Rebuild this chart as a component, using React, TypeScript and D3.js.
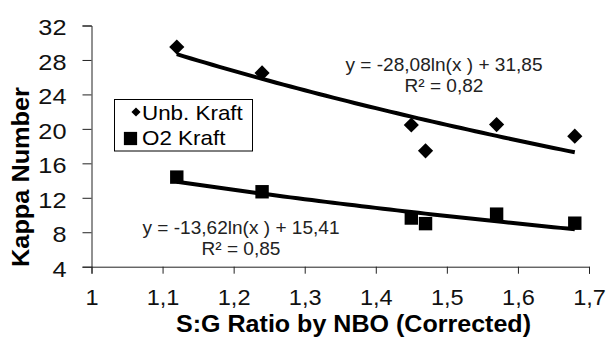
import * as d3 from "d3"
import { useEffect, useRef } from "react"

// data
const ratioSG = [1.12, 1.24, 1.45, 1.47, 1.57, 1.68]
const unbKraft = [29.5, 26.5, 20.45, 17.45, 20.5, 19.15]
const o2Kraft = [14.4, 12.7, 9.65, 9.0, 10.1, 9.05]
const xTicks = [1, 1.1, 1.2, 1.3, 1.4, 1.5, 1.6, 1.7]
const xTickLabels = ["1", "1,1", "1,2", "1,3", "1,4", "1,5", "1,6", "1,7"]
const yTicks = [4, 8, 12, 16, 20, 24, 28, 32]
const yTickLabels = ["4", "8", "12", "16", "20", "24", "28", "32"]
const seriesNames = ["Unb. Kraft", "O2 Kraft"]
// log trendlines y = a ln(x) + b
const unbFit = [-28.08, 31.85]
const o2Fit = [-13.62, 15.41]
const unbFitLabels = ["y = -28,08ln(x ) + 31,85", "R² = 0,82"]
const o2FitLabels = ["y = -13,62ln(x ) + 15,41", "R² = 0,85"]

const FONT = "'Liberation Sans', Arial, sans-serif"

export default function App() {
	const ref = useRef<SVGSVGElement>(null)

	useEffect(() => {
		const svg = d3.select(ref.current)
		svg.selectAll("*").remove()

		const x = d3.scaleLinear().domain([1, 1.7]).range([91.5, 589])
		const y = d3.scaleLinear().domain([4, 32]).range([266.7, 25.5])

		// axes
		const xAxis = d3.axisBottom(x).tickValues(xTicks).tickSize(7).tickFormat((d, i) => xTickLabels[i])
		const gx = svg.append("g")
			.attr("transform", `translate(0, ${y(4)})`)
			.call(xAxis)
		gx.select(".domain").attr("stroke", "#222")
		gx.selectAll(".tick line").attr("stroke", "#222")
		gx.selectAll(".tick text")
			.attr("font-family", FONT)
			.attr("font-size", 22)
			.attr("fill", "#111")
			.attr("dy", null)
			.attr("y", null)
			.attr("transform", "translate(0, 38.3) scale(1.07, 1)")

		const yAxis = d3.axisLeft(y).tickValues(yTicks).tickSize(9).tickFormat((d, i) => yTickLabels[i])
		const gy = svg.append("g")
			.attr("transform", `translate(${x(1)}, 0)`)
			.call(yAxis)
		gy.select(".domain").attr("stroke", "#222")
		gy.selectAll(".tick line").attr("stroke", "#222")
		gy.selectAll(".tick text")
			.attr("font-family", FONT)
			.attr("font-size", 22)
			.attr("fill", "#111")
			.attr("x", null)
			.attr("dy", "0.43em")
			.attr("transform", "translate(-25, 0) scale(1.15, 1)")

		// axis titles
		svg.append("text")
			.attr("transform", `translate(353.5, 331.5) scale(1.09, 1)`)
			.attr("text-anchor", "middle")
			.attr("font-family", FONT)
			.attr("font-weight", "bold")
			.attr("font-size", 23)
			.text("S:G Ratio by NBO (Corrected)")

		svg.append("text")
			.attr("transform", `translate(28.5, 177) rotate(-90) scale(1.1, 1)`)
			.attr("text-anchor", "middle")
			.attr("font-family", FONT)
			.attr("font-weight", "bold")
			.attr("font-size", 23)
			.text("Kappa Number")

		// trendlines
		const fitLine = (fit) => d3.line()
			.x(d => x(d))
			.y(d => y(fit[0] * Math.log(d) + fit[1]))
		const xs = d3.range(1.12, 1.6801, 0.01)
		svg.append("path").attr("d", fitLine(unbFit)(xs))
			.attr("fill", "none").attr("stroke", "#000").attr("stroke-width", 4)
		svg.append("path").attr("d", fitLine(o2Fit)(xs))
			.attr("fill", "none").attr("stroke", "#000").attr("stroke-width", 4)

		// markers
		const diamond = d3.symbol().type(d3.symbolSquare).size(115)
		svg.append("g").selectAll("path")
			.data(ratioSG)
			.enter()
			.append("path")
			.attr("d", diamond)
			.attr("transform", (d, i) => `translate(${x(d)}, ${y(unbKraft[i])}) rotate(45)`)
			.attr("fill", "#000")

		const square = d3.symbol().type(d3.symbolSquare).size(180)
		svg.append("g").selectAll("path")
			.data(ratioSG)
			.enter()
			.append("path")
			.attr("d", square)
			.attr("transform", (d, i) => `translate(${x(d)}, ${y(o2Kraft[i])})`)
			.attr("fill", "#000")

		// equation labels
		const eq = (lines, cx, by) => {
			lines.forEach((t, i) => {
				svg.append("text")
					.attr("transform", `translate(${cx}, ${by + i * 21}) scale(1.06, 1)`)
					.attr("text-anchor", "middle")
					.attr("font-family", FONT)
					.attr("font-size", 18)
					.attr("fill", "#222")
					.text(t)
			})
		}
		eq(unbFitLabels, 444, 70.7)
		eq(o2FitLabels, 241, 233.5)

		// legend
		const legend = svg.append("g")
		legend.append("rect")
			.attr("x", 114.5).attr("y", 99.5)
			.attr("width", 138).attr("height", 51.5)
			.attr("fill", "#fff").attr("stroke", "#000")
		legend.append("path")
			.attr("d", d3.symbol().type(d3.symbolSquare).size(42)())
			.attr("transform", "translate(136, 112) rotate(45)")
		legend.append("path")
			.attr("d", d3.symbol().type(d3.symbolSquare).size(175)())
			.attr("transform", "translate(130.5, 138.5)")
		seriesNames.forEach((name, i) => {
			legend.append("text")
				.attr("transform", `translate(142, ${120 + i * 25}) scale(1.12, 1)`)
				.attr("font-family", FONT)
				.attr("font-size", 20)
				.attr("fill", "#000")
				.text(name)
		})
	}, [])

	return (
		<svg ref={ref} width={607} height={337}
			style={{ position: "absolute", left: 0, top: 0, background: "#fff" }} />
	)
}
